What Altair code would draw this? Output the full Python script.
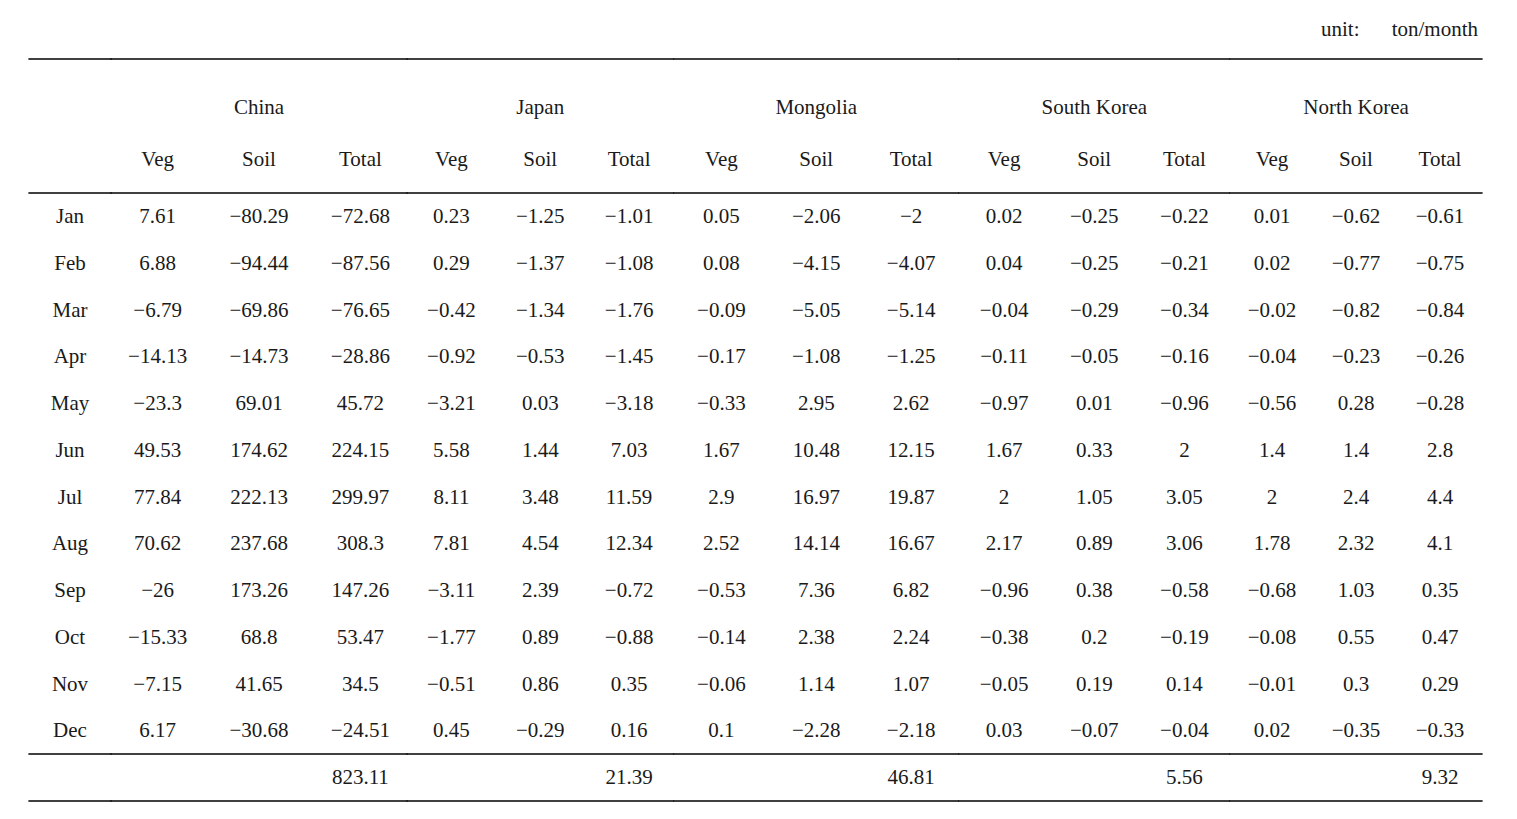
import altair as alt
import pandas as pd

FONT = "Liberation Serif"
FS = 21
TXT = "#1a1a1a"

months = ["Jan", "Feb", "Mar", "Apr", "May", "Jun", "Jul", "Aug", "Sep", "Oct", "Nov", "Dec"]
columns = ["Veg", "Soil", "Total"]
countries = ["China", "Japan", "Mongolia", "South Korea", "North Korea"]

china_veg = [7.61, 6.88, -6.79, -14.13, -23.3, 49.53, 77.84, 70.62, -26, -15.33, -7.15, 6.17]
china_soil = [-80.29, -94.44, -69.86, -14.73, 69.01, 174.62, 222.13, 237.68, 173.26, 68.8, 41.65, -30.68]
china_total = [-72.68, -87.56, -76.65, -28.86, 45.72, 224.15, 299.97, 308.3, 147.26, 53.47, 34.5, -24.51]
china_annual = 823.11

japan_veg = [0.23, 0.29, -0.42, -0.92, -3.21, 5.58, 8.11, 7.81, -3.11, -1.77, -0.51, 0.45]
japan_soil = [-1.25, -1.37, -1.34, -0.53, 0.03, 1.44, 3.48, 4.54, 2.39, 0.89, 0.86, -0.29]
japan_total = [-1.01, -1.08, -1.76, -1.45, -3.18, 7.03, 11.59, 12.34, -0.72, -0.88, 0.35, 0.16]
japan_annual = 21.39

mongolia_veg = [0.05, 0.08, -0.09, -0.17, -0.33, 1.67, 2.9, 2.52, -0.53, -0.14, -0.06, 0.1]
mongolia_soil = [-2.06, -4.15, -5.05, -1.08, 2.95, 10.48, 16.97, 14.14, 7.36, 2.38, 1.14, -2.28]
mongolia_total = [-2, -4.07, -5.14, -1.25, 2.62, 12.15, 19.87, 16.67, 6.82, 2.24, 1.07, -2.18]
mongolia_annual = 46.81

skorea_veg = [0.02, 0.04, -0.04, -0.11, -0.97, 1.67, 2, 2.17, -0.96, -0.38, -0.05, 0.03]
skorea_soil = [-0.25, -0.25, -0.29, -0.05, 0.01, 0.33, 1.05, 0.89, 0.38, 0.2, 0.19, -0.07]
skorea_total = [-0.22, -0.21, -0.34, -0.16, -0.96, 2, 3.05, 3.06, -0.58, -0.19, 0.14, -0.04]
skorea_annual = 5.56

nkorea_veg = [0.01, 0.02, -0.02, -0.04, -0.56, 1.4, 2, 1.78, -0.68, -0.08, -0.01, 0.02]
nkorea_soil = [-0.62, -0.77, -0.82, -0.23, 0.28, 1.4, 2.4, 2.32, 1.03, 0.55, 0.3, -0.35]
nkorea_total = [-0.61, -0.75, -0.84, -0.26, -0.28, 2.8, 4.4, 4.1, 0.35, 0.47, 0.29, -0.33]
nkorea_annual = 9.32

unit_label = "unit:"
unit_value = "ton/month"

table = {
    "China": (china_veg, china_soil, china_total, china_annual),
    "Japan": (japan_veg, japan_soil, japan_total, japan_annual),
    "Mongolia": (mongolia_veg, mongolia_soil, mongolia_total, mongolia_annual),
    "South Korea": (skorea_veg, skorea_soil, skorea_total, skorea_annual),
    "North Korea": (nkorea_veg, nkorea_soil, nkorea_total, nkorea_annual),
}

# layout (styles)
H = 796
MONTH_W = 82
PANEL_W = {"China": 296, "Japan": 266.5, "Mongolia": 284.5, "South Korea": 270.5, "North Korea": 252}
PANEL_PAD = {"China": 0.46, "Japan": 0.5, "Mongolia": 0.5, "South Korea": 0.5, "North Korea": 0.5}
Y_TOP_LINE, Y_HEAD, Y_SUB, Y_LINE2, Y_LINE3, Y_BOTTOM, Y_UNIT = 51, 100, 152, 185, 746, 793, 22

rows_domain = months + ["Sum"]
yscale = alt.Scale(type="point", domain=rows_domain, range=[209, 770], padding=0)


def fmt(v):
    s = f"{v:.2f}".rstrip("0").rstrip(".")
    return s.replace("-", "\u2212")


def rules(w):
    layers = []
    for yy in (Y_TOP_LINE, Y_LINE2, Y_LINE3, Y_BOTTOM):
        layers.append(
            alt.Chart(pd.DataFrame({"d": [0]}))
            .mark_rule(color="black", strokeWidth=1.3)
            .encode(x=alt.value(-0.6), x2=alt.value(w + 0.6), y=alt.value(yy))
        )
    return layers


def text_mark(**kw):
    return dict(font=FONT, fontSize=FS, color=TXT, **kw)


# Month panel
mdf = pd.DataFrame({"row": months, "col": ["Month"] * 12, "label": months})
month_text = alt.Chart(mdf).mark_text(**text_mark()).encode(
    x=alt.X("col:N", scale=alt.Scale(type="point", domain=["Month"], padding=0.5), axis=None),
    y=alt.Y("row:N", scale=yscale, axis=None),
    text="label:N",
)
month_panel = alt.layer(*rules(MONTH_W), month_text).properties(width=MONTH_W, height=H)

panels = [month_panel]
for c in countries:
    veg, soil, tot, annual = table[c]
    w = PANEL_W[c]
    recs = []
    for i, m in enumerate(months):
        recs.append({"row": m, "col": "Veg", "label": fmt(veg[i])})
        recs.append({"row": m, "col": "Soil", "label": fmt(soil[i])})
        recs.append({"row": m, "col": "Total", "label": fmt(tot[i])})
    recs.append({"row": "Sum", "col": "Total", "label": fmt(annual)})
    cdf = pd.DataFrame(recs)
    xscale = alt.Scale(type="point", domain=columns, padding=PANEL_PAD[c])

    cells = alt.Chart(cdf).mark_text(**text_mark()).encode(
        x=alt.X("col:N", scale=xscale, axis=None),
        y=alt.Y("row:N", scale=yscale, axis=None),
        text="label:N",
    )
    sub = alt.Chart(pd.DataFrame({"col": columns})).mark_text(**text_mark()).encode(
        x=alt.X("col:N", scale=xscale, axis=None),
        y=alt.value(Y_SUB),
        text="col:N",
    )
    head = alt.Chart(pd.DataFrame({"col": ["Soil"], "label": [c]})).mark_text(**text_mark()).encode(
        x=alt.X("col:N", scale=xscale, axis=None),
        y=alt.value(Y_HEAD),
        text="label:N",
    )
    layers = rules(w) + [cells, sub, head]
    if c == "North Korea":
        layers.append(
            alt.Chart(pd.DataFrame({"t": [unit_label]})).mark_text(**text_mark(align="left")).encode(
                x=alt.value(91), y=alt.value(Y_UNIT), text="t:N"
            )
        )
        layers.append(
            alt.Chart(pd.DataFrame({"t": [unit_value]})).mark_text(**text_mark(align="right")).encode(
                x=alt.value(248), y=alt.value(Y_UNIT), text="t:N"
            )
        )
    panels.append(alt.layer(*layers).properties(width=w, height=H))

chart = (
    alt.hconcat(*panels, spacing=0)
    .properties(padding={"left": 19, "top": 0, "right": 0, "bottom": 0}, bounds="flush", background="white")
    .configure_view(stroke=None)
)

chart.save("out.html", embed_options={"renderer": "svg", "actions": False})
